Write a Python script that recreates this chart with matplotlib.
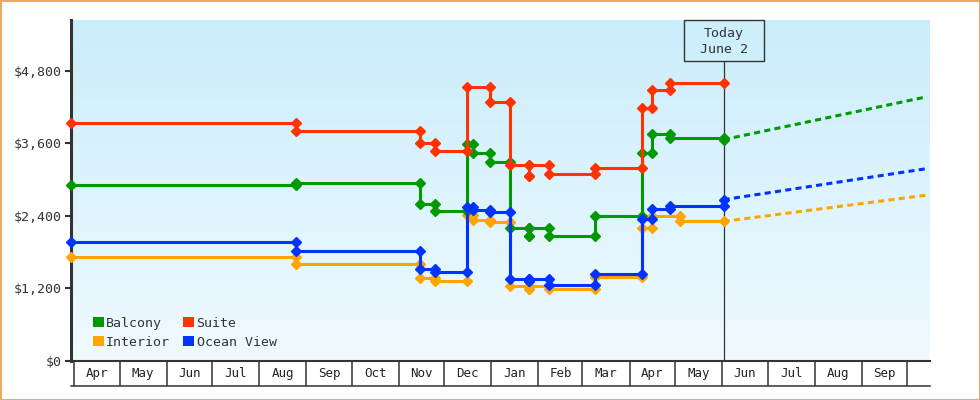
import numpy as np
import pandas as pd
import matplotlib
matplotlib.use("Agg")
import matplotlib.pyplot as plt
import matplotlib.dates as mdates
import matplotlib.transforms as mtransforms
from matplotlib.patches import Rectangle, Patch
from matplotlib.lines import Line2D
from matplotlib.colors import LinearSegmentedColormap

plt.rcParams["font.family"] = ["DejaVu Sans Mono", "DejaVu Sans"]

# ---------------- data ----------------
series_names = ["Balcony", "Interior", "Suite", "Ocean View"]
series_colors = ["#009900", "#ffa500", "#ff3300", "#0033ff"]

x_start = "2023-03-30"
x_end = "2024-10-16"
today_date = "2024-06-02"
today_label = "Today\nJune 2"

balcony_dates = ["2023-03-30", "2023-08-25", "2023-11-15", "2023-11-25", "2023-12-16",
                 "2023-12-20", "2023-12-31", "2024-01-13", "2024-01-26", "2024-01-26",
                 "2024-02-08", "2024-03-09", "2024-04-09", "2024-04-16", "2024-04-28",
                 "2024-06-02"]
balcony_prices = [2900, 2940, 2585, 2485, 3585, 3445, 3290, 2200, 2055, 2200,
                  2055, 2400, 3445, 3750, 3690, 3660]

interior_dates = ["2023-03-30", "2023-08-25", "2023-11-15", "2023-11-25", "2023-12-16",
                  "2023-12-20", "2023-12-31", "2024-01-13", "2024-01-26", "2024-01-26",
                  "2024-02-08", "2024-03-09", "2024-04-09", "2024-04-16", "2024-05-04"]
interior_prices = [1720, 1600, 1370, 1320, 2410, 2330, 2290, 1230, 1185, 1230,
                   1190, 1390, 2195, 2395, 2305]

suite_dates = ["2023-03-30", "2023-08-25", "2023-11-15", "2023-11-25", "2023-12-16",
               "2023-12-31", "2024-01-13", "2024-01-26", "2024-01-26", "2024-02-08",
               "2024-03-09", "2024-04-09", "2024-04-16", "2024-04-28"]
suite_prices = [3930, 3800, 3610, 3470, 4535, 4275, 3245, 3055, 3245, 3095,
                3195, 4190, 4490, 4590]

ocean_dates = ["2023-03-30", "2023-08-25", "2023-11-15", "2023-11-25", "2023-12-16",
               "2023-12-20", "2023-12-31", "2024-01-13", "2024-01-26", "2024-01-26",
               "2024-02-08", "2024-03-09", "2024-04-09", "2024-04-16", "2024-04-28",
               "2024-06-02"]
ocean_prices = [1970, 1815, 1515, 1465, 2545, 2500, 2465, 1355, 1320, 1355,
                1245, 1440, 2350, 2515, 2560, 2665]

forecast_dates = ["2024-06-02", "2024-10-14"]
balcony_forecast = [3660, 4370]
interior_forecast = [2305, 2740]
ocean_forecast = [2665, 3180]

y_ticks = [0, 1200, 2400, 3600, 4800]
y_max = 5650

# ---------------- figure ----------------
W, H = 980, 400
fig = plt.figure(figsize=(W / 100, H / 100), dpi=100)
ax_left, ax_right, ax_top, ax_bottom = 71, 930, 19.5, 360.5
ax_w, ax_h = ax_right - ax_left, ax_bottom - ax_top
ax = fig.add_axes([ax_left / W, (H - ax_bottom) / H, ax_w / W, ax_h / H])

# gradient background
cmap = LinearSegmentedColormap.from_list("bg", ["#f0faff", "#caedfb"])
grad = np.linspace(0, 1, 256).reshape(-1, 1)
ax.imshow(grad, extent=[0, 1, 0, 1], transform=ax.transAxes, origin="lower",
          cmap=cmap, aspect="auto", zorder=0)

today = pd.Timestamp(today_date)


def step_points(dates, values, end):
    d = pd.to_datetime(dates)
    xs, ys = [], []
    for i, (di, vi) in enumerate(zip(d, values)):
        if i > 0:
            xs.append(di)
            ys.append(values[i - 1])
        xs.append(di)
        ys.append(vi)
    if d[-1] < end:
        xs.append(end)
        ys.append(values[-1])
    return xs, ys


history = {
    "Interior": (interior_dates, interior_prices),
    "Balcony": (balcony_dates, balcony_prices),
    "Suite": (suite_dates, suite_prices),
    "Ocean View": (ocean_dates, ocean_prices),
}
forecasts = {
    "Interior": interior_forecast,
    "Balcony": balcony_forecast,
    "Ocean View": ocean_forecast,
}
color_of = dict(zip(series_names, series_colors))

for name in ["Interior", "Balcony", "Suite", "Ocean View"]:
    d, v = history[name]
    xs, ys = step_points(d, v, today)
    ax.plot(xs, ys, color=color_of[name], lw=2.2, marker="D", ms=5.5,
            zorder=3, clip_on=False, solid_joinstyle="miter")
    if name in forecasts:
        ax.plot(pd.to_datetime(forecast_dates), forecasts[name], color=color_of[name],
                lw=2.2, linestyle=(0, (2, 1.4)), zorder=3)

# axes limits
ax.set_xlim(pd.Timestamp(x_start), pd.Timestamp(x_end))
ax.set_ylim(0, y_max)

# y axis
ax.set_yticks(y_ticks)
ax.set_yticklabels([f"${v:,}" for v in y_ticks])
ax.tick_params(axis="y", length=4.3, width=1.5, color="#333333", pad=2.2,
               labelsize=9.5, labelcolor="#333333")

# x axis: month cells
month_starts = pd.date_range("2023-04-01", "2024-10-01", freq="MS")
mids = month_starts[:-1] + (month_starts[1:] - month_starts[:-1]) / 2
ax.set_xticks(month_starts)
ax.set_xticklabels([""] * len(month_starts))
ax.set_xticks(mids, minor=True)
ax.set_xticklabels([m.strftime("%b") for m in mids], minor=True)
ax.tick_params(axis="x", which="major", length=18, width=1.1, color="#333333",
               direction="out")
ax.tick_params(axis="x", which="minor", length=0, pad=4.5, labelsize=9,
               labelcolor="#222222")
cell_depth = 25 / ax_h
ax.add_line(Line2D([0, 1], [-cell_depth, -cell_depth], transform=ax.transAxes,
                   color="#333333", lw=1.1, clip_on=False))

for s in ["top", "right"]:
    ax.spines[s].set_visible(False)
ax.spines["left"].set_linewidth(2.2)
ax.spines["left"].set_color("#333333")
ax.spines["bottom"].set_linewidth(1.5)
ax.spines["bottom"].set_color("#333333")

# today marker
box_h_px, box_w_px = 40.7, 80
ax.axvline(today, ymin=0, ymax=1 - (box_h_px + 0.5) / ax_h, color="#333333",
           lw=0.9, zorder=2.6)
blend = mtransforms.blended_transform_factory(ax.transData, ax.transAxes)
anchor = fig.dpi_scale_trans + mtransforms.ScaledTranslation(
    mdates.date2num(today), 1.0, blend)
ax.add_patch(Rectangle((-box_w_px / 200, -(box_h_px + 0.5) / 100), box_w_px / 100,
                       box_h_px / 100, transform=anchor, fc="#cdeffc",
                       ec="#333333", lw=1.0, clip_on=False, zorder=4))
ax.text(0, -(box_h_px / 2 + 1.3) / 100, today_label, transform=anchor, ha="center",
        va="center", multialignment="center", fontsize=9.5, color="#333333",
        linespacing=1.3, zorder=5)

# legend
order = ["Balcony", "Interior", "Suite", "Ocean View"]
handles = [Patch(fc=color_of[n], ec="none", label=n) for n in order]
leg = ax.legend(handles=handles, ncol=2, loc="lower left",
                bbox_to_anchor=(22 / ax_w, 12 / ax_h), frameon=False, borderpad=0,
                borderaxespad=0, handlelength=0.8, handleheight=0.8,
                handletextpad=0.2, columnspacing=1.0, labelspacing=0.45,
                prop={"family": "DejaVu Sans Mono", "size": 9.5})
for t in leg.get_texts():
    t.set_color("#333333")

# figure border
fig.add_artist(Rectangle((0, 0), 1, 1, transform=fig.transFigure, fill=False,
                         ec="#e8aa64", lw=2.2))

fig.savefig("out.png", dpi=100)
